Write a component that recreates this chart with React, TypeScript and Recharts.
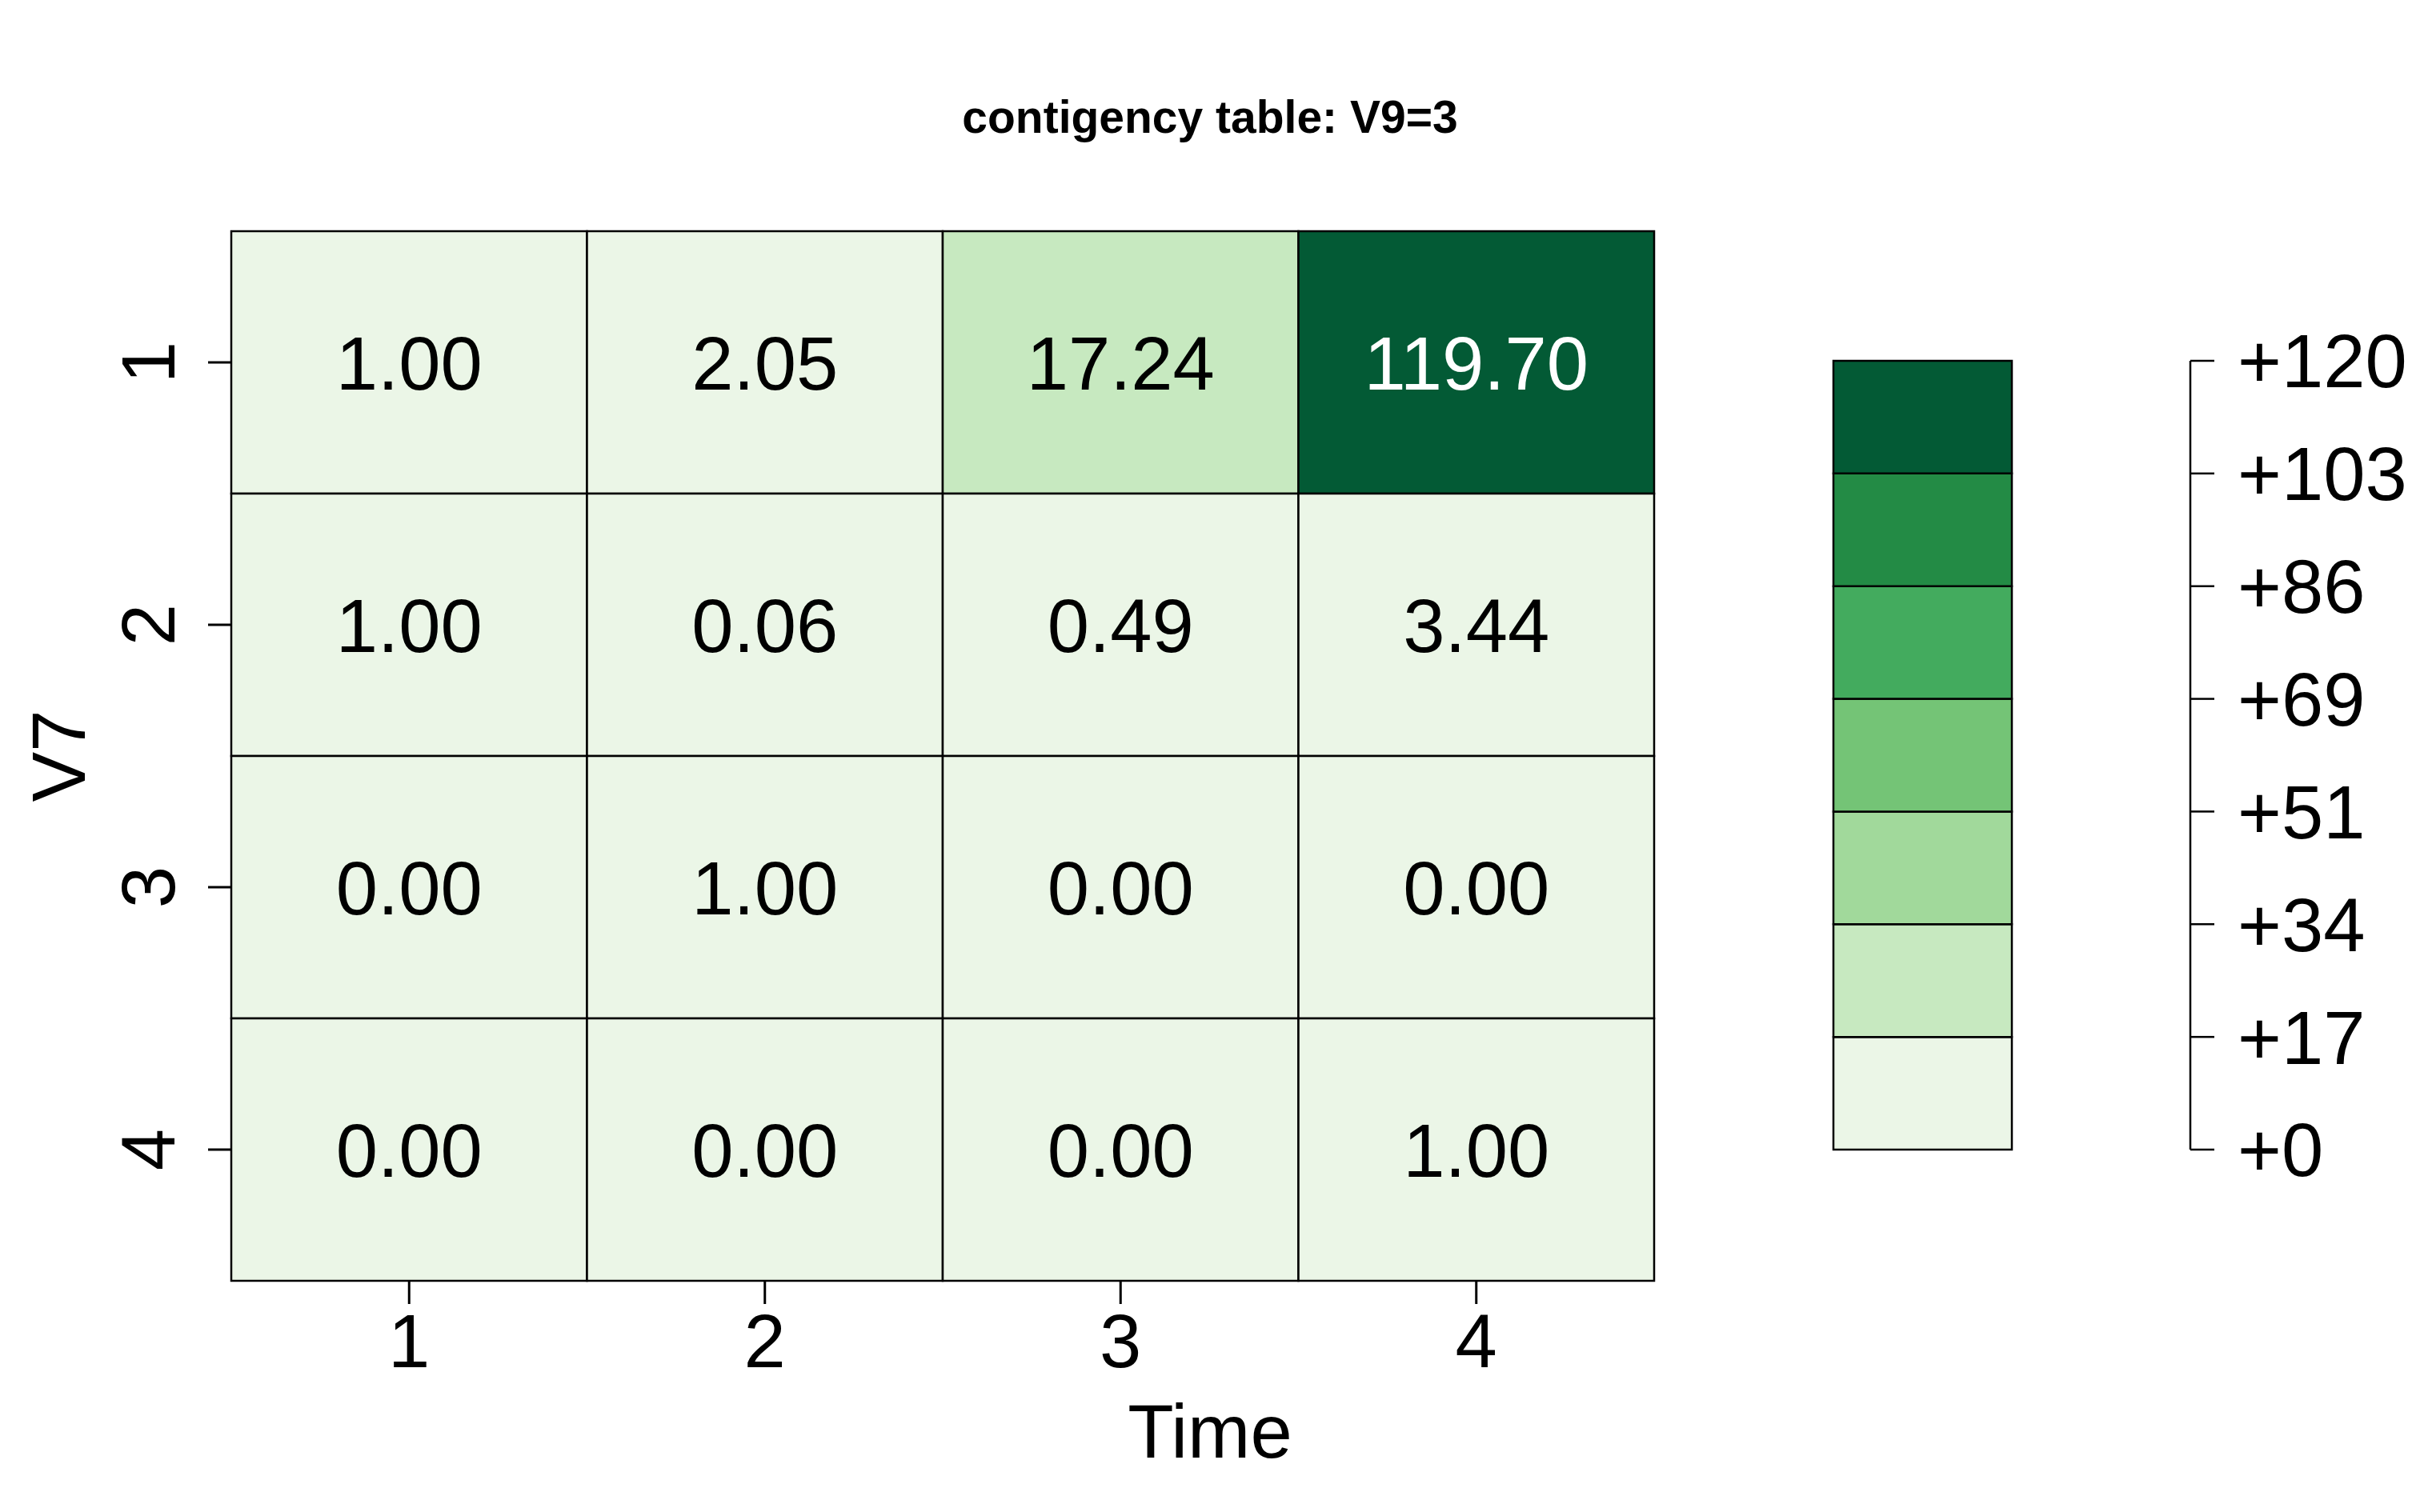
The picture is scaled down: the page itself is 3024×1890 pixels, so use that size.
import React from 'react';
import { ComposedChart, Scatter, XAxis, YAxis, ReferenceArea, BarChart, Bar } from 'recharts';

// ---- data ----
const timeCategories = [1, 2, 3, 4];
const v7Categories = [1, 2, 3, 4];
const rowV7_1 = [1.0, 2.05, 17.24, 119.7];
const rowV7_2 = [1.0, 0.06, 0.49, 3.44];
const rowV7_3 = [0.0, 1.0, 0.0, 0.0];
const rowV7_4 = [0.0, 0.0, 0.0, 1.0];
const legendBreaks = [0, 17.14, 34.29, 51.43, 68.57, 85.71, 102.86, 120];
const legendTickLabels = ['+0', '+17', '+34', '+51', '+69', '+86', '+103', '+120'];
const palette = ['#EBF6E7', '#C7E9C0', '#A1D99B', '#74C476', '#43AB5E', '#238B45', '#035A35'];
const title = 'contigency table: V9=3';
const xLabel = 'Time';
const yLabel = 'V7';

const rows = [rowV7_1, rowV7_2, rowV7_3, rowV7_4];

const colorIndex = (v: number) => {
  for (let i = 0; i < palette.length; i++) {
    if (v >= legendBreaks[i] && v < legendBreaks[i + 1]) return i;
  }
  return palette.length - 1;
};

const cells = rows.flatMap((vals, ri) =>
  vals.map((v, ci) => ({ row: v7Categories[ri], col: timeCategories[ci], value: v }))
);

const legendRow: any = { name: 'bar' };
palette.forEach((_, i) => {
  legendRow['s' + i] = legendBreaks[i + 1] - legendBreaks[i];
});
const legendData = [legendRow, { name: 'pad' }];

const FONT = '"Liberation Sans", Arial, Helvetica, sans-serif';
const FS = 94;

const XTick = (props: any) => {
  const { x, y, payload } = props;
  return (
    <text x={x} y={y + 77} textAnchor="middle" fontSize={FS} fill="#000">
      {payload.value}
    </text>
  );
};

const YTick = (props: any) => {
  const { x, y, payload } = props;
  const tx = x - 40;
  return (
    <text x={tx} y={y} textAnchor="middle" fontSize={FS} fill="#000" transform={`rotate(-90, ${tx}, ${y})`}>
      {payload.value}
    </text>
  );
};

const CellText = (props: any) => {
  const { cx, cy, payload } = props;
  const dark = colorIndex(payload.value) >= 5;
  return (
    <text x={cx} y={cy} dy="0.36em" textAnchor="middle" fontSize={FS} fill={dark ? '#fff' : '#000'}>
      {payload.value.toFixed(2)}
    </text>
  );
};

const TimeLabel = (props: any) => {
  const vb = props.viewBox;
  const cx = vb.x + vb.width / 2 + 334;
  return (
    <text x={cx} y={vb.y + 221} textAnchor="middle" fontSize={FS} fill="#000">
      {xLabel}
    </text>
  );
};

const V7Label = (props: any) => {
  const vb = props.viewBox;
  const cx = vb.x + 72;
  const cy = vb.y + vb.height / 2;
  return (
    <text x={cx} y={cy} dy="0.36em" textAnchor="middle" fontSize={FS} fill="#000" transform={`rotate(-90, ${cx}, ${cy})`}>
      {yLabel}
    </text>
  );
};

export default function App() {
  return (
    <div
      style={{
        position: 'absolute',
        left: 0,
        top: 0,
        width: 3024,
        height: 1890,
        background: '#fff',
        fontFamily: FONT,
      }}
    >
      <div
        style={{
          position: 'absolute',
          left: 0,
          top: 118,
          width: 3024,
          textAlign: 'center',
          fontSize: 57,
          lineHeight: '57px',
          fontWeight: 'bold',
          color: '#000',
        }}
      >
        {title}
      </div>

      <div style={{ position: 'absolute', left: 0, top: 0 }}>
        <ComposedChart width={3024} height={1890} data={cells} margin={{ top: 289, right: 957, bottom: 0, left: 0 }}>
          <XAxis
            type="number"
            dataKey="col"
            domain={[0.5, 4.5]}
            ticks={timeCategories}
            interval={0}
            height={289}
            tickSize={29}
            axisLine={false}
            tickLine={{ stroke: '#000', strokeWidth: 3 }}
            tick={<XTick />}
            label={<TimeLabel />}
          />
          <YAxis
            type="number"
            dataKey="row"
            domain={[0.5, 4.5]}
            reversed
            ticks={v7Categories}
            interval={0}
            width={289}
            tickSize={29}
            axisLine={false}
            tickLine={{ stroke: '#000', strokeWidth: 3 }}
            tick={<YTick />}
            label={<V7Label />}
          />
          {cells.map((c) => (
            <ReferenceArea
              key={`${c.row}-${c.col}`}
              x1={c.col - 0.5}
              x2={c.col + 0.5}
              y1={c.row - 0.5}
              y2={c.row + 0.5}
              fill={palette[colorIndex(c.value)]}
              fillOpacity={1}
              stroke="#000"
              strokeWidth={2.5}
              ifOverflow="visible"
            />
          ))}
          <Scatter dataKey="row" shape={<CellText />} isAnimationActive={false} />
        </ComposedChart>
      </div>

      <div style={{ position: 'absolute', left: 0, top: 0 }}>
        <BarChart
          width={3024}
          height={1890}
          data={legendData}
          margin={{ top: 451, right: 37, bottom: 453, left: 2291 }}
          barCategoryGap={0}
          barGap={0}
        >
          <XAxis dataKey="name" hide />
          <YAxis
            orientation="right"
            type="number"
            domain={[0, 120]}
            ticks={legendBreaks}
            interval={0}
            width={250}
            tickSize={30}
            tickMargin={29}
            axisLine={{ stroke: '#000', strokeWidth: 2.5 }}
            tickLine={{ stroke: '#000', strokeWidth: 2.5 }}
            tick={{ fontSize: FS, fill: '#000' }}
            tickFormatter={(v: number, i: number) => legendTickLabels[i]}
          />
          {palette.map((col, i) => (
            <Bar
              key={i}
              dataKey={'s' + i}
              stackId="legend"
              fill={col}
              stroke="#000"
              strokeWidth={2.5}
              isAnimationActive={false}
            />
          ))}
        </BarChart>
      </div>
    </div>
  );
}
